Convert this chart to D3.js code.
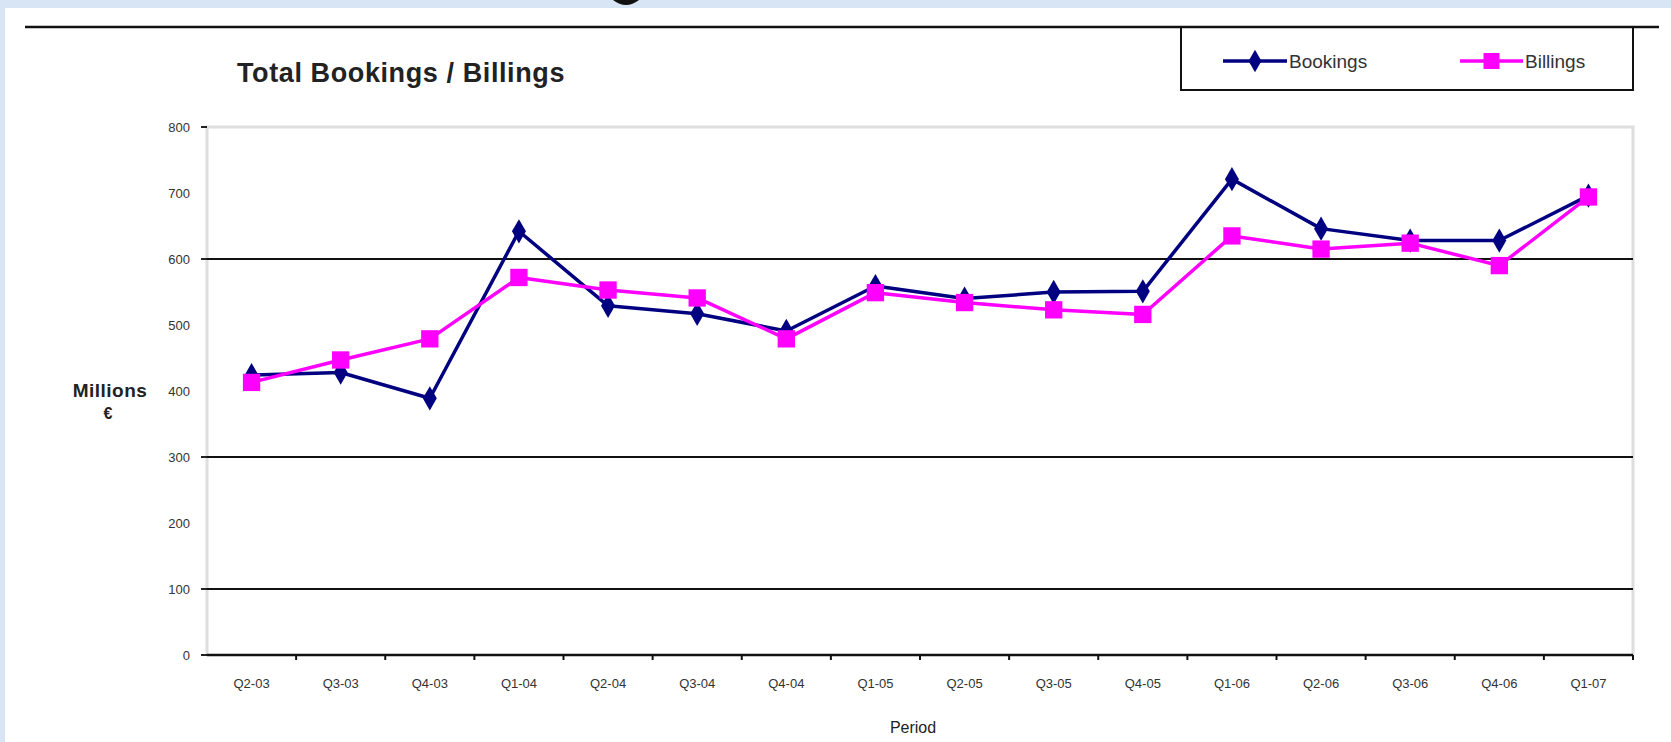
<!DOCTYPE html>
<html>
<head>
<meta charset="utf-8">
<script src="https://cdn.jsdelivr.net/npm/d3@7"></script>
<style>
  html, body { margin: 0; padding: 0; background: #d7e5f4; overflow: hidden; }
  svg { display: block; }
  text { font-family: "Liberation Sans", Arial, sans-serif; }
</style>
</head>
<body>
<svg id="chart" width="1671" height="742"></svg>
<script>
// Quarterly periods and values (millions of euros)
const periods = ["Q2-03", "Q3-03", "Q4-03", "Q1-04", "Q2-04", "Q3-04", "Q4-04", "Q1-05",
                 "Q2-05", "Q3-05", "Q4-05", "Q1-06", "Q2-06", "Q3-06", "Q4-06", "Q1-07"];
const bookings = [424, 428, 389, 642, 529, 517, 491, 559, 540, 550, 551, 721, 646, 628, 628, 696];
const billings = [413, 447, 479, 572, 553, 541, 479, 549, 534, 523, 516, 635, 615, 624, 590, 694];
const yTicks = [0, 100, 200, 300, 400, 500, 600, 700, 800];
const gridValues = [100, 300, 600];
const tickMarkValues = [0, 100, 300, 600, 800];
const seriesNames = ["Bookings", "Billings"];

const svg = d3.select("#chart");

// Page background with white slide panel
svg.append("rect").attr("x", 0).attr("y", 0).attr("width", 1671).attr("height", 742).attr("fill", "#d7e5f4");
svg.append("rect").attr("x", 5).attr("y", 8).attr("width", 1666).attr("height", 734).attr("fill", "#ffffff");
// descender of the slide heading peeking above the panel
svg.append("path").attr("d", "M613,0 Q626,10 639,0 Z").attr("fill", "#111");

// Plot geometry
const plot = { left: 207, right: 1633, top: 127, bottom: 655 };

const x = d3.scaleBand().domain(periods).range([plot.left, plot.right]).padding(0);
const y = d3.scaleLinear().domain([0, 800]).range([plot.bottom, plot.top]);

// Plot area frame
svg.append("path")
  .attr("d", `M${plot.left},${plot.bottom} V${plot.top} H${plot.right} V${plot.bottom}`)
  .attr("fill", "none").attr("stroke", "#dedede").attr("stroke-width", 3);

// Title
svg.append("text").attr("x", 237).attr("y", 82)
  .attr("font-size", 27).attr("font-weight", "bold").attr("letter-spacing", 0.6).attr("fill", "#222")
  .text("Total Bookings / Billings");

// Gridlines
svg.append("g").selectAll("line").data(gridValues).join("line")
  .attr("x1", plot.left).attr("x2", plot.right)
  .attr("y1", d => y(d)).attr("y2", d => y(d))
  .attr("stroke", "#111").attr("stroke-width", 2);

// Y axis labels
const yAxis = d3.axisLeft(y).tickValues(yTicks).tickSize(0).tickPadding(0).tickFormat(d3.format("d"));
const gy = svg.append("g").attr("transform", `translate(${plot.left - 17},0)`).call(yAxis);
gy.select(".domain").remove();
gy.selectAll("text").attr("font-size", 13).attr("fill", "#333")
  .style("font-family", "'Liberation Sans', Arial, sans-serif");

// Y tick dashes
svg.append("g").selectAll("line").data(tickMarkValues).join("line")
  .attr("x1", plot.left - 6).attr("x2", plot.left)
  .attr("y1", d => y(d)).attr("y2", d => y(d))
  .attr("stroke", "#222").attr("stroke-width", 2);

// X axis
const xAxis = d3.axisBottom(x).tickSize(0).tickPadding(0);
const gx = svg.append("g").attr("transform", `translate(0,${plot.bottom})`).call(xAxis);
gx.select(".domain").remove();
gx.selectAll("text").attr("y", 24).attr("dy", "0.71em").attr("font-size", 13).attr("fill", "#333")
  .style("font-family", "'Liberation Sans', Arial, sans-serif");

svg.append("line").attr("x1", plot.left).attr("x2", plot.right)
  .attr("y1", plot.bottom).attr("y2", plot.bottom)
  .attr("stroke", "#111").attr("stroke-width", 2.5);

// Category boundary ticks
const bounds = periods.map(p => x(p)).concat([plot.right]);
svg.append("g").selectAll("line").data(bounds.slice(1)).join("line")
  .attr("x1", d => d).attr("x2", d => d)
  .attr("y1", plot.bottom).attr("y2", plot.bottom + 5)
  .attr("stroke", "#111").attr("stroke-width", 2);

// Axis titles
svg.append("text").attr("x", 110).attr("y", 397).attr("text-anchor", "middle")
  .attr("font-size", 19).attr("font-weight", "bold").attr("letter-spacing", 0.5).attr("fill", "#222").text("Millions");
svg.append("text").attr("x", 108).attr("y", 419).attr("text-anchor", "middle")
  .attr("font-size", 16).attr("font-weight", "bold").attr("fill", "#222").text("€");
svg.append("text").attr("x", 913).attr("y", 733).attr("text-anchor", "middle")
  .attr("font-size", 16).attr("fill", "#222").text("Period");

// Series
const series = [
  { name: seriesNames[0], values: bookings, color: "#000080", symbol: d3.symbolDiamond, size: 170 },
  { name: seriesNames[1], values: billings, color: "#ff00ff", symbol: d3.symbolSquare, size: 300 }
];
const cx = p => x(p) + x.bandwidth() / 2;
const line = d3.line().x((d, i) => cx(periods[i])).y(d => y(d));

series.forEach(s => {
  svg.append("path").datum(s.values).attr("d", line)
    .attr("fill", "none").attr("stroke", s.color).attr("stroke-width", 3.5)
    .attr("stroke-linejoin", "round");
  svg.append("g").selectAll("path").data(s.values).join("path")
    .attr("transform", (d, i) => `translate(${cx(periods[i])},${y(d)})`)
    .attr("d", d3.symbol().type(s.symbol).size(s.size))
    .attr("fill", s.color);
});

// Legend
svg.append("rect").attr("x", 1181).attr("y", 27).attr("width", 452).attr("height", 63)
  .attr("fill", "#fff").attr("stroke", "#111").attr("stroke-width", 2);

// Header rule
svg.append("line").attr("x1", 25).attr("x2", 1659).attr("y1", 27).attr("y2", 27)
  .attr("stroke", "#111").attr("stroke-width", 2.5);

const legendItems = [
  { s: series[0], x0: 1223, x1: 1287 },
  { s: series[1], x0: 1460, x1: 1523 }
];
legendItems.forEach(it => {
  const ly = 61;
  svg.append("line").attr("x1", it.x0).attr("x2", it.x1).attr("y1", ly).attr("y2", ly)
    .attr("stroke", it.s.color).attr("stroke-width", 3.5);
  svg.append("path").attr("transform", `translate(${(it.x0 + it.x1) / 2},${ly})`)
    .attr("d", d3.symbol().type(it.s.symbol).size(it.s.size * 0.85)).attr("fill", it.s.color);
  svg.append("text").attr("x", it.x1 + 2).attr("y", ly + 7)
    .attr("font-size", 19).attr("fill", "#333").text(it.s.name);
});
</script>
</body>
</html>
